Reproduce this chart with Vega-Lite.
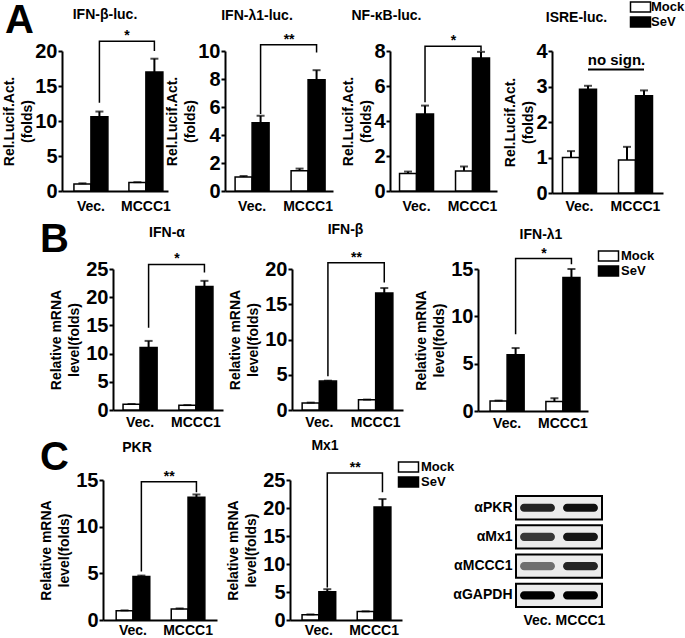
{
"$schema":"https://vega.github.io/schema/vega-lite/v6.json",
"padding":0,
"background":"white",
"datasets":{
"bars":[
{"p":"A1","g":"Vec.","t":"Mock","v":1.0,"hi":1.1},{"p":"A1","g":"Vec.","t":"SeV","v":10.6,"hi":11.35},{"p":"A1","g":"MCCC1","t":"Mock","v":1.2,"hi":1.26},{"p":"A1","g":"MCCC1","t":"SeV","v":17.0,"hi":18.9},
{"p":"A2","g":"Vec.","t":"Mock","v":1.0,"hi":1.07},{"p":"A2","g":"Vec.","t":"SeV","v":4.87,"hi":5.37},{"p":"A2","g":"MCCC1","t":"Mock","v":1.45,"hi":1.6},{"p":"A2","g":"MCCC1","t":"SeV","v":7.95,"hi":8.63},
{"p":"A3","g":"Vec.","t":"Mock","v":1.0,"hi":1.11},{"p":"A3","g":"Vec.","t":"SeV","v":4.4,"hi":4.88},{"p":"A3","g":"MCCC1","t":"Mock","v":1.15,"hi":1.4},{"p":"A3","g":"MCCC1","t":"SeV","v":7.6,"hi":7.95},
{"p":"A4","g":"Vec.","t":"Mock","v":1.0,"hi":1.18},{"p":"A4","g":"Vec.","t":"SeV","v":2.92,"hi":3.02},{"p":"A4","g":"MCCC1","t":"Mock","v":0.93,"hi":1.3},{"p":"A4","g":"MCCC1","t":"SeV","v":2.74,"hi":2.89},
{"p":"B1","g":"Vec.","t":"Mock","v":1.0,"hi":1.05},{"p":"B1","g":"Vec.","t":"SeV","v":11.1,"hi":12.25},{"p":"B1","g":"MCCC1","t":"Mock","v":0.83,"hi":0.87},{"p":"B1","g":"MCCC1","t":"SeV","v":21.9,"hi":22.9},
{"p":"B2","g":"Vec.","t":"Mock","v":1.0,"hi":1.05},{"p":"B2","g":"Vec.","t":"SeV","v":4.1,"hi":4.16},{"p":"B2","g":"MCCC1","t":"Mock","v":1.45,"hi":1.48},{"p":"B2","g":"MCCC1","t":"SeV","v":16.6,"hi":17.3},
{"p":"B3","g":"Vec.","t":"Mock","v":1.05,"hi":1.1},{"p":"B3","g":"Vec.","t":"SeV","v":5.95,"hi":6.65},{"p":"B3","g":"MCCC1","t":"Mock","v":1.0,"hi":1.35},{"p":"B3","g":"MCCC1","t":"SeV","v":14.1,"hi":15.0},
{"p":"C1","g":"Vec.","t":"Mock","v":1.0,"hi":1.03},{"p":"C1","g":"Vec.","t":"SeV","v":4.66,"hi":4.76},{"p":"C1","g":"MCCC1","t":"Mock","v":1.18,"hi":1.24},{"p":"C1","g":"MCCC1","t":"SeV","v":13.15,"hi":13.45},
{"p":"C2","g":"Vec.","t":"Mock","v":0.95,"hi":1.0},{"p":"C2","g":"Vec.","t":"SeV","v":5.06,"hi":5.5},{"p":"C2","g":"MCCC1","t":"Mock","v":1.5,"hi":1.55},{"p":"C2","g":"MCCC1","t":"SeV","v":20.2,"hi":21.6}
],
"br":[
{"p":"A1","g":"Vec.","y":12.6,"o":1},{"p":"A1","g":"Vec.","y":21.4,"o":2},{"p":"A1","g":"MCCC1","y":21.4,"o":3},{"p":"A1","g":"MCCC1","y":20.0,"o":4},
{"p":"A2","g":"Vec.","y":5.5,"o":1},{"p":"A2","g":"Vec.","y":10.45,"o":2},{"p":"A2","g":"MCCC1","y":10.45,"o":3},{"p":"A2","g":"MCCC1","y":9.9,"o":4},
{"p":"A3","g":"Vec.","y":5.07,"o":1},{"p":"A3","g":"Vec.","y":8.27,"o":2},{"p":"A3","g":"MCCC1","y":8.27,"o":3},{"p":"A3","g":"MCCC1","y":8.0,"o":4},
{"p":"A4","g":"Vec.","y":3.48,"o":1},{"p":"A4","g":"MCCC1","y":3.48,"o":2},
{"p":"B1","g":"Vec.","y":14.6,"o":1},{"p":"B1","g":"Vec.","y":25.8,"o":2},{"p":"B1","g":"MCCC1","y":25.8,"o":3},{"p":"B1","g":"MCCC1","y":24.4,"o":4},
{"p":"B2","g":"Vec.","y":4.8,"o":1},{"p":"B2","g":"Vec.","y":20.9,"o":2},{"p":"B2","g":"MCCC1","y":20.9,"o":3},{"p":"B2","g":"MCCC1","y":18.1,"o":4},
{"p":"B3","g":"Vec.","y":8.1,"o":1},{"p":"B3","g":"Vec.","y":16.1,"o":2},{"p":"B3","g":"MCCC1","y":16.1,"o":3},{"p":"B3","g":"MCCC1","y":15.5,"o":4},
{"p":"C1","g":"Vec.","y":5.2,"o":1},{"p":"C1","g":"Vec.","y":14.8,"o":2},{"p":"C1","g":"MCCC1","y":14.8,"o":3},{"p":"C1","g":"MCCC1","y":13.7,"o":4},
{"p":"C2","g":"Vec.","y":5.8,"o":1},{"p":"C2","g":"Vec.","y":26.25,"o":2},{"p":"C2","g":"MCCC1","y":26.25,"o":3},{"p":"C2","g":"MCCC1","y":22.8,"o":4}
],
"st":[
{"p":"A1","g":"MCCC1","y":21.4,"s":"*"},{"p":"A2","g":"MCCC1","y":10.45,"s":"**"},{"p":"A3","g":"MCCC1","y":8.27,"s":"*"},{"p":"A4","g":"MCCC1","y":3.58,"s":"no sign."},
{"p":"B1","g":"MCCC1","y":25.8,"s":"*"},{"p":"B2","g":"MCCC1","y":20.9,"s":"**"},{"p":"B3","g":"MCCC1","y":16.1,"s":"*"},
{"p":"C1","g":"MCCC1","y":14.8,"s":"**"},{"p":"C2","g":"MCCC1","y":26.25,"s":"**"}
],
"lg":[{"t":"Mock"},{"t":"SeV"}],
"wbBox":[{"ab":"αPKR"},{"ab":"αMx1"},{"ab":"αMCCC1"},{"ab":"αGAPDH"}],
"wb":[
{"ab":"αPKR","lane":"Vec.","i":0.85},{"ab":"αPKR","lane":"MCCC1","i":0.95},
{"ab":"αMx1","lane":"Vec.","i":0.75},{"ab":"αMx1","lane":"MCCC1","i":0.92},
{"ab":"αMCCC1","lane":"Vec.","i":0.5},{"ab":"αMCCC1","lane":"MCCC1","i":0.85},
{"ab":"αGAPDH","lane":"Vec.","i":1.0},{"ab":"αGAPDH","lane":"MCCC1","i":1.0}
]
},
"bounds":"full",
"spacing":0,
"resolve":{"scale":{"color":"independent","xOffset":"independent"},"legend":{"color":"independent"}},
"vconcat":[
{"bounds":"flush","spacing":0,
 "resolve":{"scale":{"color":"independent","xOffset":"independent"},"legend":{"color":"independent"}},
 "hconcat":[
{"width":62,"height":169,"data":{"values":[]},"mark":"point","title":{"text":"A","fontSize":40,"anchor":"start","dx":5,"offset":10}},
{"width":106,"height":140,"title":{"text":"IFN-β-luc.","dx":-10,"offset":7},
 "layer":[
 {"data":{"name":"bars"},"transform":[{"filter":"datum.p=='A1'"}],"mark":{"type":"bar","stroke":"black","strokeWidth":1.5},
  "encoding":{"x":{"field":"g","type":"nominal","sort":["Vec.","MCCC1"],"scale":{"paddingInner":0.382,"paddingOuter":0.155,"align":0.7},"axis":{"title":null,"labelPadding":8}},
   "xOffset":{"field":"t","type":"nominal","scale":{"paddingInner":0,"paddingOuter":0}},
   "y":{"field":"v","type":"quantitative","scale":{"domain":[0,20],"nice":false},"axis":{"values":[0,5,10,15,20],"format":"d","tickCount":20,"labelOverlap":false,"title":["Rel.Lucif.Act.","(folds)"],"titlePadding":0}},
   "color":{"field":"t","type":"nominal","scale":{"domain":["Mock","SeV"],"range":["white","black"]},"legend":null}}},
 {"data":{"name":"bars"},"transform":[{"filter":"datum.p=='A1'"}],"mark":{"type":"rule","color":"black","strokeWidth":2},
  "encoding":{"x":{"field":"g","type":"nominal","sort":["Vec.","MCCC1"]},"xOffset":{"field":"t","type":"nominal"},"y":{"field":"v","type":"quantitative"},"y2":{"field":"hi"}}},
 {"data":{"name":"bars"},"transform":[{"filter":"datum.p=='A1'"}],"mark":{"type":"tick","color":"black","size":8,"thickness":2},
  "encoding":{"x":{"field":"g","type":"nominal","sort":["Vec.","MCCC1"]},"xOffset":{"field":"t","type":"nominal"},"y":{"field":"hi","type":"quantitative"}}},
 {"data":{"name":"br"},"transform":[{"filter":"datum.p=='A1'"}],"mark":{"type":"line","color":"black","strokeWidth":1.5},
  "encoding":{"x":{"field":"g","type":"nominal","sort":["Vec.","MCCC1"],"bandPosition":0.75},"y":{"field":"y","type":"quantitative"},"order":{"field":"o"}}},
 {"data":{"name":"st"},"transform":[{"filter":"datum.p=='A1'"}],"mark":{"type":"text","dx":-2,"dy":-1,"baseline":"alphabetic","fontSize":14,"fontWeight":"bold","color":"black"},
  "encoding":{"x":{"field":"g","type":"nominal","sort":["Vec.","MCCC1"],"bandPosition":0},"y":{"field":"y","type":"quantitative"},"text":{"field":"s"}}}
 ]},
{"width":57,"height":1,"data":{"values":[]},"mark":"point"},
{"width":108,"height":140,"title":{"text":"IFN-λ1-luc.","dx":-22,"offset":10},
 "layer":[
 {"data":{"name":"bars"},"transform":[{"filter":"datum.p=='A2'"}],"mark":{"type":"bar","stroke":"black","strokeWidth":1.5},
  "encoding":{"x":{"field":"g","type":"nominal","sort":["Vec.","MCCC1"],"scale":{"paddingInner":0.393,"paddingOuter":0.161,"align":0.56},"axis":{"title":null,"labelPadding":8}},
   "xOffset":{"field":"t","type":"nominal","scale":{"paddingInner":0,"paddingOuter":0}},
   "y":{"field":"v","type":"quantitative","scale":{"domain":[0,10],"nice":false},"axis":{"values":[0,2,4,6,8,10],"format":"d","tickCount":20,"labelOverlap":false,"title":["Rel.Lucif.Act.","(folds)"],"titlePadding":0}},
   "color":{"field":"t","type":"nominal","scale":{"domain":["Mock","SeV"],"range":["white","black"]},"legend":null}}},
 {"data":{"name":"bars"},"transform":[{"filter":"datum.p=='A2'"}],"mark":{"type":"rule","color":"black","strokeWidth":2},
  "encoding":{"x":{"field":"g","type":"nominal","sort":["Vec.","MCCC1"]},"xOffset":{"field":"t","type":"nominal"},"y":{"field":"v","type":"quantitative"},"y2":{"field":"hi"}}},
 {"data":{"name":"bars"},"transform":[{"filter":"datum.p=='A2'"}],"mark":{"type":"tick","color":"black","size":8,"thickness":2},
  "encoding":{"x":{"field":"g","type":"nominal","sort":["Vec.","MCCC1"]},"xOffset":{"field":"t","type":"nominal"},"y":{"field":"hi","type":"quantitative"}}},
 {"data":{"name":"br"},"transform":[{"filter":"datum.p=='A2'"}],"mark":{"type":"line","color":"black","strokeWidth":1.5},
  "encoding":{"x":{"field":"g","type":"nominal","sort":["Vec.","MCCC1"],"bandPosition":0.75},"y":{"field":"y","type":"quantitative"},"order":{"field":"o"}}},
 {"data":{"name":"st"},"transform":[{"filter":"datum.p=='A2'"}],"mark":{"type":"text","dx":-2,"dy":-1,"baseline":"alphabetic","fontSize":14,"fontWeight":"bold","color":"black"},
  "encoding":{"x":{"field":"g","type":"nominal","sort":["Vec.","MCCC1"],"bandPosition":0},"y":{"field":"y","type":"quantitative"},"text":{"field":"s"}}}
 ]},
{"width":57,"height":1,"data":{"values":[]},"mark":"point"},
{"width":107,"height":140,"title":{"text":"NF-κB-luc.","dx":-57,"offset":11},
 "layer":[
 {"data":{"name":"bars"},"transform":[{"filter":"datum.p=='A3'"}],"mark":{"type":"bar","stroke":"black","strokeWidth":1.5},
  "encoding":{"x":{"field":"g","type":"nominal","sort":["Vec.","MCCC1"],"scale":{"paddingInner":0.393,"paddingOuter":0.152,"align":0.56},"axis":{"title":null,"labelPadding":8}},
   "xOffset":{"field":"t","type":"nominal","scale":{"paddingInner":0,"paddingOuter":0}},
   "y":{"field":"v","type":"quantitative","scale":{"domain":[0,8],"nice":false},"axis":{"values":[0,2,4,6,8],"format":"d","tickCount":20,"labelOverlap":false,"title":["Rel.Lucif.Act.","(folds)"],"titlePadding":0}},
   "color":{"field":"t","type":"nominal","scale":{"domain":["Mock","SeV"],"range":["white","black"]},"legend":null}}},
 {"data":{"name":"bars"},"transform":[{"filter":"datum.p=='A3'"}],"mark":{"type":"rule","color":"black","strokeWidth":2},
  "encoding":{"x":{"field":"g","type":"nominal","sort":["Vec.","MCCC1"]},"xOffset":{"field":"t","type":"nominal"},"y":{"field":"v","type":"quantitative"},"y2":{"field":"hi"}}},
 {"data":{"name":"bars"},"transform":[{"filter":"datum.p=='A3'"}],"mark":{"type":"tick","color":"black","size":8,"thickness":2},
  "encoding":{"x":{"field":"g","type":"nominal","sort":["Vec.","MCCC1"]},"xOffset":{"field":"t","type":"nominal"},"y":{"field":"hi","type":"quantitative"}}},
 {"data":{"name":"br"},"transform":[{"filter":"datum.p=='A3'"}],"mark":{"type":"line","color":"black","strokeWidth":1.5},
  "encoding":{"x":{"field":"g","type":"nominal","sort":["Vec.","MCCC1"],"bandPosition":0.75},"y":{"field":"y","type":"quantitative"},"order":{"field":"o"}}},
 {"data":{"name":"st"},"transform":[{"filter":"datum.p=='A3'"}],"mark":{"type":"text","dx":-2,"dy":-1,"baseline":"alphabetic","fontSize":14,"fontWeight":"bold","color":"black"},
  "encoding":{"x":{"field":"g","type":"nominal","sort":["Vec.","MCCC1"],"bandPosition":0},"y":{"field":"y","type":"quantitative"},"text":{"field":"s"}}}
 ]},
{"width":55,"height":1,"data":{"values":[]},"mark":"point"},
{"width":111,"height":142,"title":{"text":"ISRE-luc.","dx":-31,"offset":16},
 "layer":[
 {"data":{"name":"bars"},"transform":[{"filter":"datum.p=='A4'"}],"mark":{"type":"bar","stroke":"black","strokeWidth":1.5},
  "encoding":{"x":{"field":"g","type":"nominal","sort":["Vec.","MCCC1"],"scale":{"paddingInner":0.393,"paddingOuter":0.1875,"align":0.5},"axis":{"title":null,"labelPadding":6}},
   "xOffset":{"field":"t","type":"nominal","scale":{"paddingInner":0,"paddingOuter":0}},
   "y":{"field":"v","type":"quantitative","scale":{"domain":[0,4],"nice":false},"axis":{"values":[0,1,2,3,4],"format":"d","tickCount":20,"labelOverlap":false,"title":["Rel.Lucif.Act.","(folds)"],"titlePadding":0}},
   "color":{"field":"t","type":"nominal","scale":{"domain":["Mock","SeV"],"range":["white","black"]},"legend":null}}},
 {"data":{"name":"bars"},"transform":[{"filter":"datum.p=='A4'"}],"mark":{"type":"rule","color":"black","strokeWidth":2},
  "encoding":{"x":{"field":"g","type":"nominal","sort":["Vec.","MCCC1"]},"xOffset":{"field":"t","type":"nominal"},"y":{"field":"v","type":"quantitative"},"y2":{"field":"hi"}}},
 {"data":{"name":"bars"},"transform":[{"filter":"datum.p=='A4'"}],"mark":{"type":"tick","color":"black","size":8,"thickness":2},
  "encoding":{"x":{"field":"g","type":"nominal","sort":["Vec.","MCCC1"]},"xOffset":{"field":"t","type":"nominal"},"y":{"field":"hi","type":"quantitative"}}},
 {"data":{"name":"br"},"transform":[{"filter":"datum.p=='A4'"}],"mark":{"type":"line","color":"black","strokeWidth":2},
  "encoding":{"x":{"field":"g","type":"nominal","sort":["Vec.","MCCC1"],"bandPosition":0.75},"y":{"field":"y","type":"quantitative"},"order":{"field":"o"}}},
 {"data":{"name":"st"},"transform":[{"filter":"datum.p=='A4'"}],"mark":{"type":"text","dx":-2,"dy":-1,"baseline":"alphabetic","fontSize":15,"fontWeight":"bold","color":"black"},
  "encoding":{"x":{"field":"g","type":"nominal","sort":["Vec.","MCCC1"],"bandPosition":0},"y":{"field":"y","type":"quantitative"},"text":{"field":"s"}}}
 ]},
{"width":1,"height":1,"data":{"name":"lg"},"mark":{"type":"point","shape":"M-2,-1H2V1H-2Z","filled":true,"opacity":0,"size":100},
 "encoding":{"color":{"field":"t","type":"nominal","scale":{"domain":["Mock","SeV"],"range":["white","black"]},
  "legend":{"orient":"none","legendX":-29,"legendY":-50.5,"title":null,"symbolType":"M-2,-1H2V1H-2Z","symbolSize":100,"symbolStrokeColor":"black","symbolStrokeWidth":1.5,"symbolOpacity":1,"labelFontSize":13,"labelFontWeight":"bold","labelColor":"black","labelOffset":4,"rowPadding":-4,"padding":0}}}}
 ]},
{"bounds":"flush","spacing":0,
 "resolve":{"scale":{"color":"independent","xOffset":"independent"},"legend":{"color":"independent"}},
 "hconcat":[
{"width":113,"height":169,"data":{"values":[]},"mark":"point","title":{"text":"B","fontSize":40,"anchor":"start","dx":40,"offset":9}},
{"width":110,"height":141,"title":{"text":"IFN-α","dx":-1,"offset":12},
 "layer":[
 {"data":{"name":"bars"},"transform":[{"filter":"datum.p=='B1'"}],"mark":{"type":"bar","stroke":"black","strokeWidth":1.5},
  "encoding":{"x":{"field":"g","type":"nominal","sort":["Vec.","MCCC1"],"scale":{"paddingInner":0.39,"paddingOuter":0.18,"align":0.5},"axis":{"title":null,"labelPadding":5}},
   "xOffset":{"field":"t","type":"nominal","scale":{"paddingInner":0,"paddingOuter":0}},
   "y":{"field":"v","type":"quantitative","scale":{"domain":[0,25],"nice":false},"axis":{"values":[0,5,10,15,20,25],"format":"d","tickCount":20,"labelOverlap":false,"title":["Relative mRNA","level(folds)"]}},
   "color":{"field":"t","type":"nominal","scale":{"domain":["Mock","SeV"],"range":["white","black"]},"legend":null}}},
 {"data":{"name":"bars"},"transform":[{"filter":"datum.p=='B1'"}],"mark":{"type":"rule","color":"black","strokeWidth":2},
  "encoding":{"x":{"field":"g","type":"nominal","sort":["Vec.","MCCC1"]},"xOffset":{"field":"t","type":"nominal"},"y":{"field":"v","type":"quantitative"},"y2":{"field":"hi"}}},
 {"data":{"name":"bars"},"transform":[{"filter":"datum.p=='B1'"}],"mark":{"type":"tick","color":"black","size":8,"thickness":2},
  "encoding":{"x":{"field":"g","type":"nominal","sort":["Vec.","MCCC1"]},"xOffset":{"field":"t","type":"nominal"},"y":{"field":"hi","type":"quantitative"}}},
 {"data":{"name":"br"},"transform":[{"filter":"datum.p=='B1'"}],"mark":{"type":"line","color":"black","strokeWidth":1.5},
  "encoding":{"x":{"field":"g","type":"nominal","sort":["Vec.","MCCC1"],"bandPosition":0.75},"y":{"field":"y","type":"quantitative"},"order":{"field":"o"}}},
 {"data":{"name":"st"},"transform":[{"filter":"datum.p=='B1'"}],"mark":{"type":"text","dx":-2,"dy":-1,"baseline":"alphabetic","fontSize":14,"fontWeight":"bold","color":"black"},
  "encoding":{"x":{"field":"g","type":"nominal","sort":["Vec.","MCCC1"],"bandPosition":0},"y":{"field":"y","type":"quantitative"},"text":{"field":"s"}}}
 ]},
{"width":69,"height":1,"data":{"values":[]},"mark":"point"},
{"width":111,"height":141,"title":{"text":"IFN-β","dx":-2,"offset":14},
 "layer":[
 {"data":{"name":"bars"},"transform":[{"filter":"datum.p=='B2'"}],"mark":{"type":"bar","stroke":"black","strokeWidth":1.5},
  "encoding":{"x":{"field":"g","type":"nominal","sort":["Vec.","MCCC1"],"scale":{"paddingInner":0.39,"paddingOuter":0.18,"align":0.5},"axis":{"title":null,"labelPadding":5}},
   "xOffset":{"field":"t","type":"nominal","scale":{"paddingInner":0,"paddingOuter":0}},
   "y":{"field":"v","type":"quantitative","scale":{"domain":[0,20],"nice":false},"axis":{"values":[0,5,10,15,20],"format":"d","tickCount":20,"labelOverlap":false,"title":["Relative mRNA","level(folds)"]}},
   "color":{"field":"t","type":"nominal","scale":{"domain":["Mock","SeV"],"range":["white","black"]},"legend":null}}},
 {"data":{"name":"bars"},"transform":[{"filter":"datum.p=='B2'"}],"mark":{"type":"rule","color":"black","strokeWidth":2},
  "encoding":{"x":{"field":"g","type":"nominal","sort":["Vec.","MCCC1"]},"xOffset":{"field":"t","type":"nominal"},"y":{"field":"v","type":"quantitative"},"y2":{"field":"hi"}}},
 {"data":{"name":"bars"},"transform":[{"filter":"datum.p=='B2'"}],"mark":{"type":"tick","color":"black","size":8,"thickness":2},
  "encoding":{"x":{"field":"g","type":"nominal","sort":["Vec.","MCCC1"]},"xOffset":{"field":"t","type":"nominal"},"y":{"field":"hi","type":"quantitative"}}},
 {"data":{"name":"br"},"transform":[{"filter":"datum.p=='B2'"}],"mark":{"type":"line","color":"black","strokeWidth":1.5},
  "encoding":{"x":{"field":"g","type":"nominal","sort":["Vec.","MCCC1"],"bandPosition":0.75},"y":{"field":"y","type":"quantitative"},"order":{"field":"o"}}},
 {"data":{"name":"st"},"transform":[{"filter":"datum.p=='B2'"}],"mark":{"type":"text","dx":-2,"dy":-1,"baseline":"alphabetic","fontSize":14,"fontWeight":"bold","color":"black"},
  "encoding":{"x":{"field":"g","type":"nominal","sort":["Vec.","MCCC1"],"bandPosition":0},"y":{"field":"y","type":"quantitative"},"text":{"field":"s"}}}
 ]},
{"width":75,"height":1,"data":{"values":[]},"mark":"point"},
{"width":110,"height":142,"title":{"text":"IFN-λ1","dx":8,"offset":5},
 "layer":[
 {"data":{"name":"bars"},"transform":[{"filter":"datum.p=='B3'"}],"mark":{"type":"bar","stroke":"black","strokeWidth":1.5},
  "encoding":{"x":{"field":"g","type":"nominal","sort":["Vec.","MCCC1"],"scale":{"paddingInner":0.39,"paddingOuter":0.18,"align":0.6},"axis":{"title":null,"labelPadding":5}},
   "xOffset":{"field":"t","type":"nominal","scale":{"paddingInner":0,"paddingOuter":0}},
   "y":{"field":"v","type":"quantitative","scale":{"domain":[0,15],"nice":false},"axis":{"values":[0,5,10,15],"format":"d","tickCount":20,"labelOverlap":false,"title":["Relative mRNA","level(folds)"]}},
   "color":{"field":"t","type":"nominal","scale":{"domain":["Mock","SeV"],"range":["white","black"]},"legend":null}}},
 {"data":{"name":"bars"},"transform":[{"filter":"datum.p=='B3'"}],"mark":{"type":"rule","color":"black","strokeWidth":2},
  "encoding":{"x":{"field":"g","type":"nominal","sort":["Vec.","MCCC1"]},"xOffset":{"field":"t","type":"nominal"},"y":{"field":"v","type":"quantitative"},"y2":{"field":"hi"}}},
 {"data":{"name":"bars"},"transform":[{"filter":"datum.p=='B3'"}],"mark":{"type":"tick","color":"black","size":8,"thickness":2},
  "encoding":{"x":{"field":"g","type":"nominal","sort":["Vec.","MCCC1"]},"xOffset":{"field":"t","type":"nominal"},"y":{"field":"hi","type":"quantitative"}}},
 {"data":{"name":"br"},"transform":[{"filter":"datum.p=='B3'"}],"mark":{"type":"line","color":"black","strokeWidth":1.5},
  "encoding":{"x":{"field":"g","type":"nominal","sort":["Vec.","MCCC1"],"bandPosition":0.75},"y":{"field":"y","type":"quantitative"},"order":{"field":"o"}}},
 {"data":{"name":"st"},"transform":[{"filter":"datum.p=='B3'"}],"mark":{"type":"text","dx":-2,"dy":-1,"baseline":"alphabetic","fontSize":14,"fontWeight":"bold","color":"black"},
  "encoding":{"x":{"field":"g","type":"nominal","sort":["Vec.","MCCC1"],"bandPosition":0},"y":{"field":"y","type":"quantitative"},"text":{"field":"s"}}}
 ]},
{"width":1,"height":1,"data":{"name":"lg"},"mark":{"type":"point","shape":"M-2,-1H2V1H-2Z","filled":true,"opacity":0,"size":100},
 "encoding":{"color":{"field":"t","type":"nominal","scale":{"domain":["Mock","SeV"],"range":["white","black"]},
  "legend":{"orient":"none","legendX":14,"legendY":-19.5,"title":null,"symbolType":"M-2,-1H2V1H-2Z","symbolSize":100,"symbolStrokeColor":"black","symbolStrokeWidth":1.5,"symbolOpacity":1,"labelFontSize":13,"labelFontWeight":"bold","labelColor":"black","labelOffset":6,"rowPadding":-4,"padding":0}}}}
 ]},
{"bounds":"flush","spacing":0,
 "resolve":{"scale":{"color":"independent","xOffset":"independent"},"legend":{"color":"independent"}},
 "hconcat":[
{"width":103,"height":1,"data":{"values":[]},"mark":"point","title":{"text":"C","fontSize":40,"anchor":"start","dx":40,"offset":2}},
{"width":114,"height":140,"title":{"text":"PKR","dx":-23,"offset":15},
 "layer":[
 {"data":{"name":"bars"},"transform":[{"filter":"datum.p=='C1'"}],"mark":{"type":"bar","stroke":"black","strokeWidth":1.5},
  "encoding":{"x":{"field":"g","type":"nominal","sort":["Vec.","MCCC1"],"scale":{"paddingInner":0.39,"paddingOuter":0.23,"align":0.52},"axis":{"title":null,"labelPadding":3}},
   "xOffset":{"field":"t","type":"nominal","scale":{"paddingInner":0,"paddingOuter":0}},
   "y":{"field":"v","type":"quantitative","scale":{"domain":[0,15],"nice":false},"axis":{"values":[0,5,10,15],"format":"d","tickCount":20,"labelOverlap":false,"title":["Relative mRNA","level(folds)"]}},
   "color":{"field":"t","type":"nominal","scale":{"domain":["Mock","SeV"],"range":["white","black"]},"legend":null}}},
 {"data":{"name":"bars"},"transform":[{"filter":"datum.p=='C1'"}],"mark":{"type":"rule","color":"black","strokeWidth":2},
  "encoding":{"x":{"field":"g","type":"nominal","sort":["Vec.","MCCC1"]},"xOffset":{"field":"t","type":"nominal"},"y":{"field":"v","type":"quantitative"},"y2":{"field":"hi"}}},
 {"data":{"name":"bars"},"transform":[{"filter":"datum.p=='C1'"}],"mark":{"type":"tick","color":"black","size":8,"thickness":2},
  "encoding":{"x":{"field":"g","type":"nominal","sort":["Vec.","MCCC1"]},"xOffset":{"field":"t","type":"nominal"},"y":{"field":"hi","type":"quantitative"}}},
 {"data":{"name":"br"},"transform":[{"filter":"datum.p=='C1'"}],"mark":{"type":"line","color":"black","strokeWidth":1.5},
  "encoding":{"x":{"field":"g","type":"nominal","sort":["Vec.","MCCC1"],"bandPosition":0.75},"y":{"field":"y","type":"quantitative"},"order":{"field":"o"}}},
 {"data":{"name":"st"},"transform":[{"filter":"datum.p=='C1'"}],"mark":{"type":"text","dx":-2,"dy":-1,"baseline":"alphabetic","fontSize":14,"fontWeight":"bold","color":"black"},
  "encoding":{"x":{"field":"g","type":"nominal","sort":["Vec.","MCCC1"],"bandPosition":0},"y":{"field":"y","type":"quantitative"},"text":{"field":"s"}}}
 ]},
{"width":73,"height":1,"data":{"values":[]},"mark":"point"},
{"width":112,"height":140,"title":{"text":"Mx1","dx":-21,"offset":8},
 "layer":[
 {"data":{"name":"bars"},"transform":[{"filter":"datum.p=='C2'"}],"mark":{"type":"bar","stroke":"black","strokeWidth":1.5},
  "encoding":{"x":{"field":"g","type":"nominal","sort":["Vec.","MCCC1"],"scale":{"paddingInner":0.39,"paddingOuter":0.21,"align":0.52},"axis":{"title":null,"labelPadding":3}},
   "xOffset":{"field":"t","type":"nominal","scale":{"paddingInner":0,"paddingOuter":0}},
   "y":{"field":"v","type":"quantitative","scale":{"domain":[0,25],"nice":false},"axis":{"values":[0,5,10,15,20,25],"format":"d","tickCount":20,"labelOverlap":false,"title":["Relative mRNA","level(folds)"]}},
   "color":{"field":"t","type":"nominal","scale":{"domain":["Mock","SeV"],"range":["white","black"]},"legend":null}}},
 {"data":{"name":"bars"},"transform":[{"filter":"datum.p=='C2'"}],"mark":{"type":"rule","color":"black","strokeWidth":2},
  "encoding":{"x":{"field":"g","type":"nominal","sort":["Vec.","MCCC1"]},"xOffset":{"field":"t","type":"nominal"},"y":{"field":"v","type":"quantitative"},"y2":{"field":"hi"}}},
 {"data":{"name":"bars"},"transform":[{"filter":"datum.p=='C2'"}],"mark":{"type":"tick","color":"black","size":8,"thickness":2},
  "encoding":{"x":{"field":"g","type":"nominal","sort":["Vec.","MCCC1"]},"xOffset":{"field":"t","type":"nominal"},"y":{"field":"hi","type":"quantitative"}}},
 {"data":{"name":"br"},"transform":[{"filter":"datum.p=='C2'"}],"mark":{"type":"line","color":"black","strokeWidth":1.5},
  "encoding":{"x":{"field":"g","type":"nominal","sort":["Vec.","MCCC1"],"bandPosition":0.75},"y":{"field":"y","type":"quantitative"},"order":{"field":"o"}}},
 {"data":{"name":"st"},"transform":[{"filter":"datum.p=='C2'"}],"mark":{"type":"text","dx":-2,"dy":-1,"baseline":"alphabetic","fontSize":14,"fontWeight":"bold","color":"black"},
  "encoding":{"x":{"field":"g","type":"nominal","sort":["Vec.","MCCC1"],"bandPosition":0},"y":{"field":"y","type":"quantitative"},"text":{"field":"s"}}}
 ]},
{"width":114,"height":1,"data":{"name":"lg"},"mark":{"type":"point","shape":"M-2,-1H2V1H-2Z","filled":true,"opacity":0,"size":100},
 "encoding":{"color":{"field":"t","type":"nominal","scale":{"domain":["Mock","SeV"],"range":["white","black"]},
  "legend":{"orient":"none","legendX":0,"legendY":-19.5,"title":null,"symbolType":"M-2,-1H2V1H-2Z","symbolSize":100,"symbolStrokeColor":"black","symbolStrokeWidth":1.5,"symbolOpacity":1,"labelFontSize":13,"labelFontWeight":"bold","labelColor":"black","labelOffset":6,"rowPadding":-3,"padding":0}}}},
{"width":86,"height":127,
 "layer":[
 {"data":{"name":"wbBox"},"mark":{"type":"rect","fill":"#ececec","stroke":"black","strokeWidth":2},
  "encoding":{"y":{"field":"ab","type":"nominal","sort":["αPKR","αMx1","αMCCC1","αGAPDH"],"scale":{"paddingInner":0.2,"paddingOuter":0.275,"align":1},"axis":{"title":null,"domain":false,"ticks":false,"labelFontSize":14,"labelPadding":4}}}},
 {"data":{"name":"wb"},"mark":{"type":"bar","width":{"band":0.9},"height":{"band":0.35},"cornerRadius":4},
  "encoding":{"x":{"field":"lane","type":"nominal","sort":["Vec.","MCCC1"],"scale":{"paddingInner":0.1,"paddingOuter":0.05},"axis":{"title":null,"domain":false,"ticks":false,"labelFontSize":14,"labelPadding":6}},
   "y":{"field":"ab","type":"nominal","sort":["αPKR","αMx1","αMCCC1","αGAPDH"]},
   "color":{"field":"i","type":"quantitative","scale":{"domain":[0,1],"range":["#ececec","#000000"]},"legend":null}}}
 ]}
 ]}
],
"config":{
 "view":{"stroke":null},
 "font":"Liberation Sans",
 "axis":{"grid":false,"domainColor":"black","domainWidth":2,"tickColor":"black","tickWidth":2,"labelColor":"black","titleColor":"black","labelFontWeight":"bold","titleFontWeight":"bold","labelFont":"Liberation Sans","titleFont":"Liberation Sans","labelOverlap":false,"labelFlush":false},
 "axisX":{"ticks":false,"tickSize":0,"labelFontSize":14,"labelAngle":0},
 "axisY":{"tickSize":4,"labelFontSize":20,"labelPadding":1,"titleFontSize":14,"titleLineHeight":18,"titlePadding":4,"tickCount":20},
 "title":{"fontSize":14,"fontWeight":"bold","color":"black","frame":"group","baseline":"alphabetic","anchor":"middle","font":"Liberation Sans"},
 "text":{"font":"Liberation Sans"},
 "legend":{"labelFont":"Liberation Sans"}
}
}
